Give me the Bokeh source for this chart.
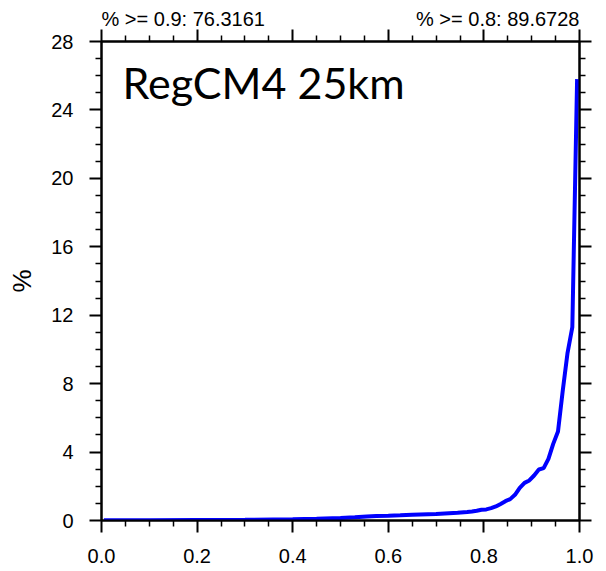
from bokeh.plotting import figure
from bokeh.models import LinearAxis, FixedTicker, Label, Range1d, CustomJSTickFormatter
from bokeh.embed import file_html
from bokeh.resources import INLINE

# data
x_vals = [0.005, 0.1, 0.2, 0.3, 0.4, 0.45, 0.5, 0.53, 0.555, 0.575, 0.6, 0.625, 0.65,
          0.7, 0.745, 0.765, 0.775, 0.785, 0.795, 0.805, 0.815, 0.825, 0.835, 0.845,
          0.855, 0.865, 0.875, 0.885, 0.895, 0.905, 0.915, 0.925, 0.935, 0.945,
          0.955, 0.965, 0.975, 0.985, 0.995]
pct_vals = [0.02, 0.02, 0.03, 0.04, 0.07, 0.1, 0.15, 0.19, 0.24, 0.27, 0.28, 0.3, 0.33,
            0.38, 0.45, 0.5, 0.53, 0.57, 0.63, 0.65, 0.72, 0.82, 0.97, 1.13,
            1.25, 1.5, 1.91, 2.2, 2.34, 2.63, 2.98, 3.06, 3.6, 4.48,
            5.2, 7.6, 9.8, 11.3, 25.8]

x_major = [0.0, 0.2, 0.4, 0.6, 0.8, 1.0]
x_minor = [0.05, 0.1, 0.15, 0.25, 0.3, 0.35, 0.45, 0.5, 0.55, 0.65, 0.7, 0.75, 0.85, 0.9, 0.95]
y_major = [0, 4, 8, 12, 16, 20, 24, 28]
y_minor = [1, 2, 3, 5, 6, 7, 9, 10, 11, 13, 14, 15, 17, 18, 19, 21, 22, 23, 25, 26, 27]

title_text = "RegCM4 25km"
top_notes = ["% >= 0.9: 76.3161", "% >= 0.8: 89.6728"]
top_note_pos = [0.171, 0.829]   # centres of the two notes along the top edge
y_label = "%"

p = figure(width=606, height=571, output_backend="svg", toolbar_location=None,
           x_range=Range1d(0, 1), y_range=Range1d(0, 28),
           min_border_left=101, min_border_right=27, min_border_top=41, min_border_bottom=51,
           background_fill_color="white", border_fill_color="white")
p.grid.visible = False
p.outline_line_color = "black"
p.outline_line_width = 2

font = "Liberation Sans"

def style_axis(ax, labels=True):
    ax.axis_line_color = "black"
    ax.axis_line_width = 2
    ax.major_tick_line_color = "black"
    ax.major_tick_line_width = 2
    ax.minor_tick_line_color = "black"
    ax.minor_tick_line_width = 1.5
    ax.major_tick_out = 12
    ax.major_tick_in = 0
    ax.minor_tick_out = 6
    ax.minor_tick_in = 0
    ax.major_label_text_font = font
    ax.major_label_text_font_size = "20px"
    ax.major_label_text_color = "black"
    if not labels:
        ax.formatter = CustomJSTickFormatter(code="return ''")
        ax.major_label_text_font_size = "0px"
        ax.major_label_standoff = 0

xa = p.xaxis[0]
xa.ticker = FixedTicker(ticks=x_major, minor_ticks=x_minor)
xa.formatter = CustomJSTickFormatter(code="return tick.toFixed(1)")
style_axis(xa)
xa.major_label_standoff = 16

ya = p.yaxis[0]
ya.ticker = FixedTicker(ticks=y_major, minor_ticks=y_minor)
style_axis(ya)
ya.major_label_standoff = 16
ya.axis_label = y_label
ya.axis_label_text_font = font
ya.axis_label_text_font_size = "26px"
ya.axis_label_text_font_style = "normal"
ya.axis_label_text_color = "black"
ya.axis_label_standoff = 11

# top tick axis (closest to the frame)
top = LinearAxis(ticker=FixedTicker(ticks=x_major, minor_ticks=x_minor))
style_axis(top, labels=False)
p.add_layout(top, "above")

# text-only axis above it carrying the two notes
notes = LinearAxis(ticker=FixedTicker(ticks=top_note_pos, minor_ticks=[]),
                   formatter=CustomJSTickFormatter(args=dict(labels=top_notes),
                                                   code="return labels[index]"))
notes.axis_line_color = None
notes.major_tick_line_color = None
notes.minor_tick_line_color = None
notes.major_tick_out = 0
notes.major_tick_in = 0
notes.minor_tick_out = 0
notes.minor_tick_in = 0
notes.major_label_standoff = 0
notes.major_label_text_font = font
notes.major_label_text_font_size = "20px"
notes.major_label_text_color = "black"
p.add_layout(notes, "above")

right = LinearAxis(ticker=FixedTicker(ticks=y_major, minor_ticks=y_minor))
style_axis(right, labels=False)
p.add_layout(right, "right")

p.line(x_vals, pct_vals, line_color="#0000ff", line_width=4)

p.add_layout(Label(x=0.044, y=25.6, text=title_text, text_font="Lato", text_font_size="43px",
                   text_color="black", text_align="left", text_baseline="alphabetic"))

open("out.html", "w").write(file_html(p, INLINE))
